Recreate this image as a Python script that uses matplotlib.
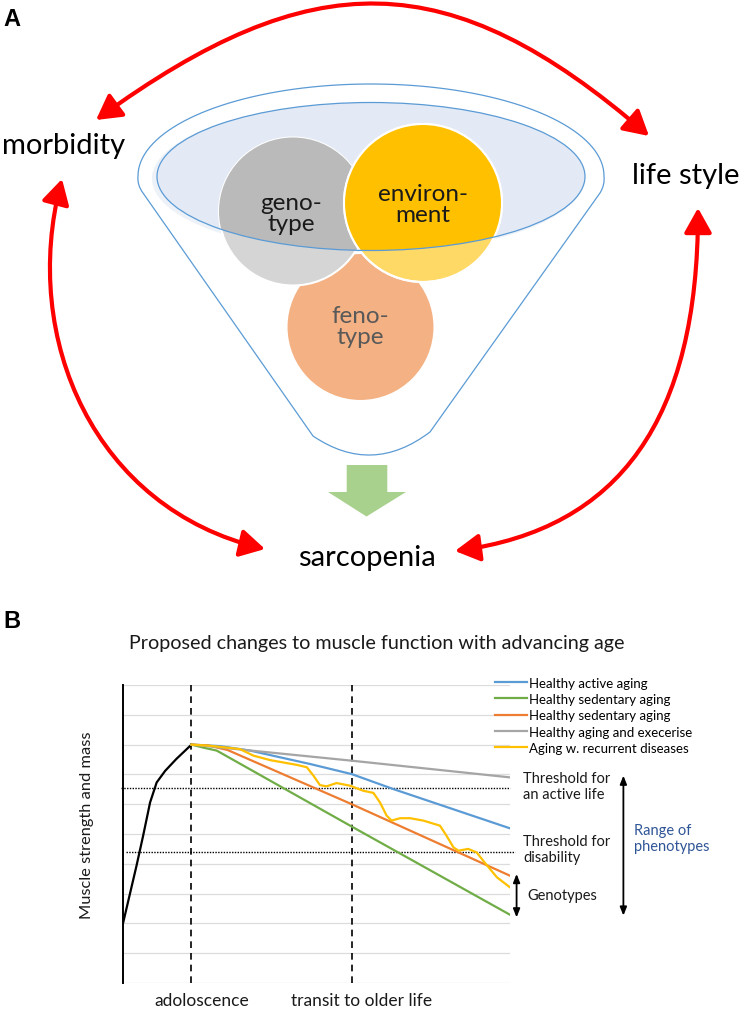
import numpy as np
import matplotlib
matplotlib.use("Agg")
import matplotlib.pyplot as plt
from matplotlib.patches import Ellipse, Circle, Polygon, PathPatch, FancyArrowPatch
from matplotlib.path import Path

plt.rcParams['font.family'] = ['Lato', 'DejaVu Sans']

# ---------------- data (panel B) ----------------
series_labels = ["Healthy active aging", "Healthy sedentary aging", "Healthy sedentary aging",
                 "Healthy aging and execerise", "Aging w. recurrent diseases"]
series_colors = ["#5b9bd5", "#70ad47", "#ed7d31", "#a5a5a5", "#ffc000"]

growth_x = [0, 3.5, 5.2, 7.0, 8.7, 10.9, 13.8, 17.7]
growth_y = [2.0, 3.94, 4.94, 6.06, 6.73, 7.12, 7.52, 8.0]

blue_x = [17.7, 25.0, 32.8, 48.3, 59.1, 69.8, 100]
blue_y = [8.0, 7.95, 7.80, 7.35, 7.01, 6.51, 5.19]
green_x = [17.7, 20.7, 24.2, 59.1, 100]
green_y = [8.0, 7.9, 7.8, 5.25, 2.29]
orange_x = [17.7, 22.0, 27.0, 59.1, 100]
orange_y = [8.0, 7.97, 7.82, 6.0, 3.6]
gray_x = [17.7, 59.1, 100]
gray_y = [8.0, 7.46, 6.9]
yellow_x = [17.7, 22.5, 30.2, 33.7, 38.0, 44.9, 47.5, 49.2, 50.9, 52.6, 55.2, 58.7, 62.1, 64.7,
            66.4, 68.1, 69.4, 71.6, 74.2, 77.6, 81.9, 83.6, 85.4, 86.7, 89.2, 91.4, 93.1, 94.8,
            96.6, 100]
yellow_y = [8.0, 7.96, 7.85, 7.63, 7.48, 7.32, 7.24, 6.96, 6.64, 6.60, 6.71, 6.62, 6.45, 6.38,
            6.06, 5.62, 5.45, 5.53, 5.53, 5.45, 5.28, 4.94, 4.55, 4.44, 4.50, 4.38, 4.10, 3.83,
            3.55, 3.21]

phase_x = [17.7, 59.1]
phase_labels = ["adoloscence", "transit to older life"]
threshold_active = 6.54
threshold_disability = 4.39
genotype_range = (3.66, 2.2)
phenotype_range = (6.96, 2.26)

W, H = 743, 1012
fig = plt.figure(figsize=(W / 100, H / 100), dpi=100)

# ---------------- panel A (pixel-coordinate canvas) ----------------
axA = fig.add_axes([0, 0, 1, 1])
axA.set_xlim(0, W)
axA.set_ylim(H, 0)
axA.axis('off')

blue_edge = "#5b9bd5"

# outer funnel outline
cx, cy, a_out, b_out = 371, 177, 233, 92
t = np.linspace(np.pi, 0, 80)
rim = np.column_stack([cx + a_out * np.cos(t), cy - b_out * np.sin(t)])
verts = list(map(tuple, rim))
codes = [Path.MOVETO] + [Path.LINETO] * (len(verts) - 1)
verts += [(605, 186), (600, 194), (430, 433), (372, 477), (313, 437), (143, 194), (137, 186), (138, 177)]
codes += [Path.CURVE3, Path.CURVE3, Path.LINETO, Path.CURVE3, Path.CURVE3, Path.LINETO,
          Path.CURVE3, Path.CURVE3]
axA.add_patch(PathPatch(Path(verts, codes), facecolor='white', edgecolor=blue_edge, lw=0.9, zorder=1))

# inner ellipse fill
ell_c, ell_w, ell_h = (371, 177.5), 428, 148
axA.add_patch(Ellipse((ell_c[0] - 3, ell_c[1] + 2), ell_w + 4, ell_h + 2, facecolor='#edf1f8',
                      edgecolor='none', zorder=1.5))
axA.add_patch(Ellipse(ell_c, ell_w, ell_h, facecolor='#e3eaf5', edgecolor='none', zorder=1.6))
clip_ell = Ellipse(ell_c, ell_w, ell_h, transform=axA.transData)

# circles
axA.add_patch(Circle((360.5, 328), 74, facecolor='#f4b183', edgecolor='white', lw=1.5, zorder=2))
axA.add_patch(Circle((293, 212.5), 74, facecolor='#d5d5d5', edgecolor='white', lw=1.5, zorder=3))
c = Circle((293, 212.5), 74, facecolor='#bababa', edgecolor='none', zorder=3.1)
axA.add_patch(c); c.set_clip_path(clip_ell)
axA.add_patch(Circle((423, 204), 79, facecolor='#ffd966', edgecolor='white', lw=1.5, zorder=4))
c = Circle((423, 204), 79, facecolor='#ffc000', edgecolor='none', zorder=4.1)
axA.add_patch(c); c.set_clip_path(clip_ell)
axA.add_patch(Circle((423, 204), 79, facecolor='none', edgecolor='white', lw=1.5, zorder=4.2))
axA.add_patch(Ellipse(ell_c, ell_w, ell_h, facecolor='none', edgecolor=blue_edge, lw=0.9, zorder=5))

axA.text(291, 214, "geno-\ntype", ha='center', va='center', fontsize=17.5, color='#1a1a1a',
         linespacing=1.05, zorder=6)
axA.text(423, 205, "environ-\nment", ha='center', va='center', fontsize=17.5, color='#1a1a1a',
         linespacing=1.05, zorder=6)
axA.text(360, 327, "feno-\ntype", ha='center', va='center', fontsize=17.5, color='#595959',
         linespacing=1.05, zorder=6)

# green arrow
axA.add_patch(Polygon([(346.7, 466), (387.3, 466), (387.3, 493), (406, 493), (366.5, 517.5),
                       (328, 493), (346.7, 493)], closed=True, facecolor='#a9d18e',
                      edgecolor='none', zorder=5))

# red arrows
red = '#ff0000'
def red_arrow(p0, c1, c2, p3):
    path = Path([p0, c1, c2, p3], [Path.MOVETO, Path.CURVE4, Path.CURVE4, Path.CURVE4])
    arr = FancyArrowPatch(path=path, arrowstyle='<|-|>,head_length=0.75,head_width=0.42',
                          mutation_scale=20, color=red, lw=3, zorder=7)
    axA.add_patch(arr)

red_arrow((96, 121), (312, -36), (449, -36), (649, 137))
red_arrow((698, 209), (698, 420), (620, 530), (455, 552))
red_arrow((62, 180), (20, 340), (95, 510), (265, 550))

axA.text(64, 146, "morbidity", ha='center', va='center', fontsize=21, color='black')
axA.text(686, 176, "life style", ha='center', va='center', fontsize=21, color='black')
axA.text(367, 558, "sarcopenia", ha='center', va='center', fontsize=21, color='black')

axA.text(3, 19, "A", ha='left', va='center', fontsize=17, fontweight='bold',
         family='Liberation Sans')
axA.text(3, 621, "B", ha='left', va='center', fontsize=17, fontweight='bold',
         family='Liberation Sans')

axA.text(377, 643, "Proposed changes to muscle function with advancing age", ha='center',
         va='center', fontsize=14.2, color='#1a1a1a')

# ---------------- panel B chart ----------------
ax = fig.add_axes([123 / W, 1 - 984 / H, 387 / W, 298 / H])
ax.set_xlim(0, 100)
ax.set_ylim(0, 10)
ax.set_facecolor('none')
for s in ['top', 'right', 'bottom']:
    ax.spines[s].set_visible(False)
ax.spines['left'].set_linewidth(1.4)
ax.spines['left'].set_color('black')
ax.set_yticks(range(11))
ax.set_xticks([])
ax.tick_params(axis='both', length=0, labelleft=False)
ax.grid(axis='y', color='#dcdcdc', lw=0.9)
ax.set_axisbelow(True)

for xv in phase_x:
    ax.axvline(xv, color='black', ls=(0, (4, 3)), lw=1.2, zorder=1)

ax.plot([-0.4, 100], [threshold_active] * 2, ls=(0, (1, 1)), color='black', lw=1.0, clip_on=False)
ax.plot([0.8, 101.3], [threshold_disability] * 2, ls=(0, (1, 1)), color='black', lw=1.0,
        clip_on=False)

ax.plot(growth_x, growth_y, color='black', lw=1.6, zorder=3)
series = [(blue_x, blue_y), (green_x, green_y), (orange_x, orange_y), (gray_x, gray_y),
          (yellow_x, yellow_y)]
handles = []
for (xs, ys), col, lab in zip(series, series_colors, series_labels):
    ln, = ax.plot(xs, ys, color=col, lw=1.6, label=lab, zorder=3, solid_joinstyle='round')
    handles.append(ln)

leg = ax.legend(handles=handles, loc='upper left', bbox_to_anchor=(0.961, 1.028), frameon=False,
                fontsize=9.5, handlelength=2.4, handletextpad=0.2, labelspacing=0.33,
                borderpad=0, borderaxespad=0)

ax.annotate("", xy=(101.7, genotype_range[1]), xytext=(101.7, genotype_range[0]),
            arrowprops=dict(arrowstyle='<|-|>,head_length=0.5,head_width=0.2', color='black',
                            lw=1.3, shrinkA=0, shrinkB=0), annotation_clip=False)
ax.annotate("", xy=(129.3, phenotype_range[1]), xytext=(129.3, phenotype_range[0]),
            arrowprops=dict(arrowstyle='<|-|>,head_length=0.5,head_width=0.2', color='black',
                            lw=1.3, shrinkA=0, shrinkB=0), annotation_clip=False)

# axis texts
axA.text(202, 1001, phase_labels[0], ha='center', va='center', fontsize=12.5, color='#1a1a1a')
axA.text(362, 1001, phase_labels[1], ha='center', va='center', fontsize=12.5, color='#1a1a1a')
axA.text(87, 825, "Muscle strength and mass", ha='center', va='center', rotation=90,
         fontsize=11.8, color='#1a1a1a')

axA.text(523, 787, "Threshold for\nan active life", ha='left', va='center', fontsize=10.5,
         color='#1a1a1a', linespacing=1.15)
axA.text(523, 850, "Threshold for\ndisability", ha='left', va='center', fontsize=10.5,
         color='#1a1a1a', linespacing=1.15)
axA.text(527, 896, "Genotypes", ha='left', va='center', fontsize=10.5, color='#1a1a1a')
axA.text(634, 839, "Range of\nphenotypes", ha='left', va='center', fontsize=10.5,
         color='#2f5597', linespacing=1.15)

fig.savefig("out.png", dpi=100)
